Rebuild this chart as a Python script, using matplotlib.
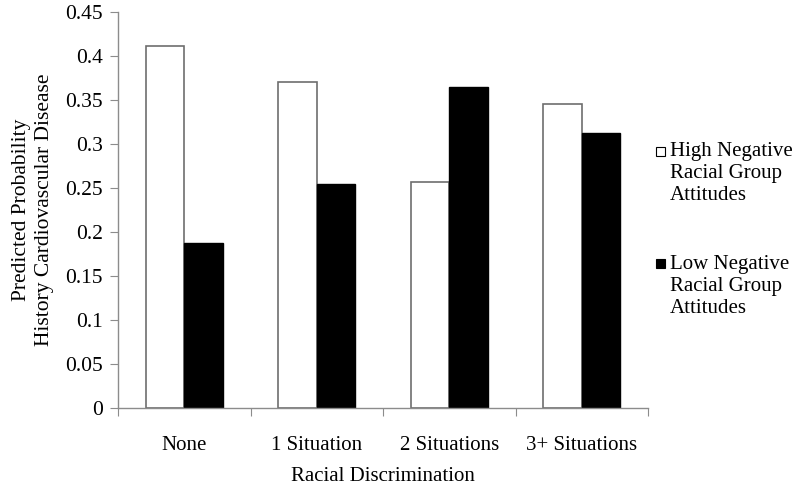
import numpy as np
import matplotlib.pyplot as plt
from matplotlib.patches import Rectangle

categories = ["None", "1 Situation", "2 Situations", "3+ Situations"]
high_neg = [0.411, 0.371, 0.257, 0.345]
low_neg = [0.187, 0.255, 0.365, 0.312]
series_names = ["High Negative\nRacial Group\nAttitudes", "Low Negative\nRacial Group\nAttitudes"]
series_fill = ["white", "black"]

plt.rcParams['font.family'] = ['Liberation Serif', 'DejaVu Serif']

W, H = 800, 488
fig = plt.figure(figsize=(W / 100, H / 100), dpi=100)
ax = fig.add_axes([118 / W, 1 - 408 / H, 530 / W, 396 / H])

x = np.arange(len(categories))
w = 0.29
ax.bar(x - w / 2, high_neg, w, color='white', edgecolor='#6e6e6e', linewidth=1.2)
ax.bar(x + w / 2, low_neg, w, color='black', edgecolor='black', linewidth=1.0)

ax.set_xlim(-0.5, len(categories) - 0.5)
ax.set_ylim(0, 0.45)
ax.set_yticks(np.arange(0, 0.451, 0.05))
ax.set_yticklabels(["0", "0.05", "0.1", "0.15", "0.2", "0.25", "0.3", "0.35", "0.4", "0.45"])

# category boundaries as ticks, labels at centres
ax.set_xticks(np.arange(-0.5, len(categories), 1.0))
ax.set_xticklabels([])
ax.set_xticks(x, minor=True)
ax.set_xticklabels(categories, minor=True)
ax.tick_params(axis='x', which='minor', length=0, pad=20, labelsize=15)
ax.tick_params(axis='x', which='major', length=6, color='#8c8c8c', direction='out')
ax.tick_params(axis='y', length=6, color='#8c8c8c', direction='out', labelsize=15.5, pad=5)

for s in ['top', 'right']:
    ax.spines[s].set_visible(False)
for s in ['left', 'bottom']:
    ax.spines[s].set_color('#8c8c8c')
    ax.spines[s].set_linewidth(1.0)

ax.set_ylabel("Predicted Probability\nHistory Cardiovascular Disease", fontsize=15.5, labelpad=8, linespacing=1.3)
ax.set_xlabel("Racial Discrimination", fontsize=15, labelpad=9)

# legend drawn by hand so the marker sits on the first text line
text_tops = [142, 255]
box_centres = [151.5, 263.5]
for name, fill, top, bc in zip(series_names, series_fill, text_tops, box_centres):
    fig.patches.append(Rectangle((656 / W, 1 - (bc + 4.5) / H), 9 / W, 9 / H,
                                 facecolor=fill, edgecolor='black', linewidth=0.8,
                                 transform=fig.transFigure, figure=fig))
    fig.text(670 / W, 1 - top / H, name, fontsize=15, va='top', ha='left')

fig.savefig("out.png", dpi=100)
